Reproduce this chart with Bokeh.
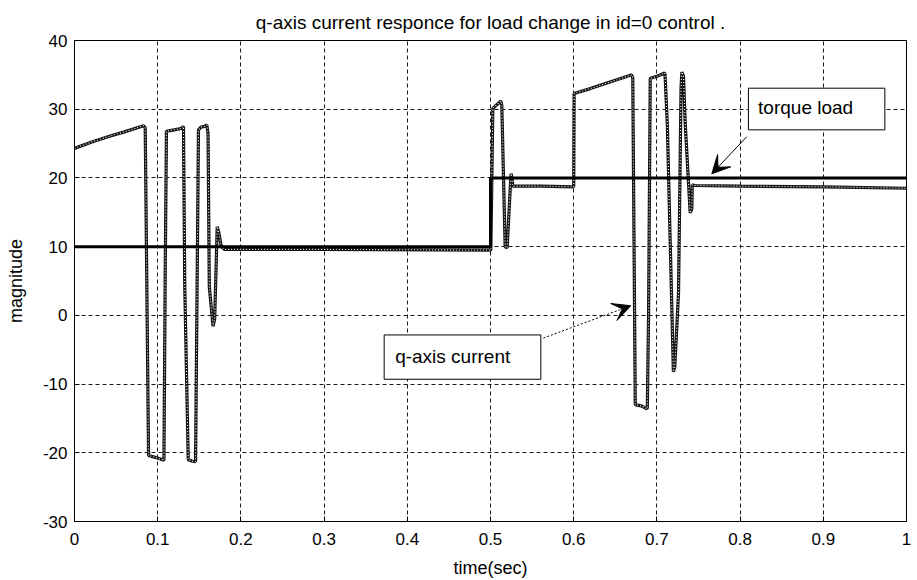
from bokeh.plotting import figure
from bokeh.models import FixedTicker, BoxAnnotation, Label, Arrow, VeeHead, Range1d
from bokeh.embed import file_html
from bokeh.resources import INLINE

# ---------------- data ----------------
title_text = "q-axis current responce for load change in id=0 control ."
x_label = "time(sec)"
y_label = "magnitude"

x_ticks = [0, 0.1, 0.2, 0.3, 0.4, 0.5, 0.6, 0.7, 0.8, 0.9, 1]
x_tick_labels = ["0", "0.1", "0.2", "0.3", "0.4", "0.5", "0.6", "0.7", "0.8", "0.9", "1"]
y_ticks = [-30, -20, -10, 0, 10, 20, 30, 40]
y_tick_labels = ["-30", "-20", "-10", "0", "10", "20", "30", "40"]

torque_t = [0.0, 0.5, 0.5, 1.0]
torque_v = [10, 10, 20, 20]

current_t = [0.0, 0.02, 0.04, 0.06, 0.083, 0.085, 0.089, 0.098, 0.1075, 0.109, 0.1105,
             0.12, 0.128, 0.131, 0.1325, 0.1367, 0.141, 0.1455, 0.149,
             0.152, 0.156, 0.159, 0.1605, 0.162, 0.1665, 0.1685, 0.1715, 0.1735, 0.1765, 0.180,
             0.3, 0.5, 0.5004, 0.5028, 0.506, 0.510, 0.5125, 0.5136, 0.5176, 0.520, 0.5245,
             0.525, 0.527, 0.56, 0.6, 0.6005, 0.62, 0.64, 0.66, 0.6698, 0.671, 0.674,
             0.682, 0.688, 0.6885, 0.690, 0.692, 0.700, 0.708, 0.7095, 0.710, 0.7126,
             0.7198, 0.7215, 0.726, 0.729, 0.730, 0.732, 0.734, 0.740, 0.742, 0.7425,
             0.745, 0.8, 0.9, 1.0]
current_v = [24.3, 25.2, 26.0, 26.7, 27.6, 27.3, -20.4, -20.7, -21.1, 5.6, 26.8,
             27.0, 27.2, 27.5, 4.4, -21.0, -21.2, -21.3, 27.0,
             27.4, 27.5, 27.7, 26.5, 4.2, -1.6, -0.5, 12.9, 12.0, 10.0, 9.6,
             9.6, 9.5, 9.5, 30.1, 30.5, 30.9, 31.2, 30.5, 10.0, 9.8, 20.3,
             20.6, 18.8, 18.8, 18.7, 32.3, 33.0, 33.8, 34.6, 35.0, 34.5, -13.0,
             -13.2, -13.6, -13.4, 0.3, 34.5, 34.8, 35.2, 35.3, 34.5, 27.5,
             -8.2, -7.5, 3.3, 33.0, 35.4, 34.8, 28.0, 14.9, 15.5, 19.0,
             18.9, 18.8, 18.7, 18.5]

FONT = "Liberation Sans"

p = figure(width=917, height=580, output_backend="svg", toolbar_location=None,
           x_range=Range1d(0, 1), y_range=Range1d(-30, 40),
           min_border_left=74, min_border_right=11, min_border_top=40,
           min_border_bottom=58, title=title_text)

p.background_fill_color = "white"
p.border_fill_color = "white"
p.outline_line_color = "black"
p.outline_line_alpha = 1
p.outline_line_width = 1

p.title.align = "center"
p.title.text_font = FONT
p.title.text_font_size = "19px"
p.title.text_font_style = "normal"
p.title.text_color = "black"
p.title.standoff = 16

p.xaxis.ticker = FixedTicker(ticks=x_ticks)
p.xaxis.major_label_overrides = {t: l for t, l in zip(x_ticks, x_tick_labels)}
p.yaxis.ticker = FixedTicker(ticks=y_ticks)
p.yaxis.major_label_overrides = {t: l for t, l in zip(y_ticks, y_tick_labels)}

for ax in (p.xaxis, p.yaxis):
    ax.axis_line_color = "black"
    ax.major_tick_line_color = "black"
    ax.major_tick_in = 5
    ax.major_tick_out = 0
    ax.minor_tick_line_color = None
    ax.major_label_text_font = FONT
    ax.major_label_text_font_size = "17px"
    ax.major_label_text_color = "black"
    ax.axis_label_text_font = FONT
    ax.axis_label_text_font_size = "18px"
    ax.axis_label_text_font_style = "normal"
    ax.axis_label_text_color = "black"

p.xaxis.axis_label = x_label
p.yaxis.axis_label = y_label
p.xaxis.major_label_standoff = 11
p.yaxis.major_label_standoff = 7
p.xaxis.axis_label_standoff = 10
p.yaxis.axis_label_standoff = 14

for g in (p.xgrid, p.ygrid):
    g.grid_line_color = "black"
    g.grid_line_alpha = 0.9
    g.grid_line_width = 1
    g.grid_line_dash = "4 3"

# current trace (chain-like scanned look)
p.line(current_t, current_v, line_color="#151515", line_width=3.2)
p.line(current_t, current_v, line_color="white", line_width=1.1, line_dash="1 2")

# torque load
p.line(torque_t, torque_v, line_color="black", line_width=3)

# annotations
p.add_layout(BoxAnnotation(left=0.81, right=0.974, bottom=27.0, top=33.06,
                           fill_color="white", fill_alpha=1,
                           line_color="black", line_width=1, line_alpha=1))
p.add_layout(Label(x=0.8216, y=30.19, text="torque load", text_font=FONT,
                   text_font_size="19px", text_baseline="middle", text_color="black"))
p.add_layout(Arrow(end=VeeHead(size=18, fill_color="black", line_color="black"),
                   x_start=0.808, y_start=26.0, x_end=0.766, y_end=20.6,
                   line_color="black", line_width=1))

p.add_layout(BoxAnnotation(left=0.3722, right=0.5605, bottom=-9.3, top=-2.85,
                           fill_color="white", fill_alpha=1,
                           line_color="black", line_width=1, line_alpha=1))
p.add_layout(Label(x=0.3854, y=-6.0, text="q-axis current", text_font=FONT,
                   text_font_size="19px", text_baseline="middle", text_color="black"))
p.add_layout(Arrow(end=VeeHead(size=18, fill_color="black", line_color="black"),
                   x_start=0.5636, y_start=-3.3, x_end=0.6686, y_end=1.4,
                   line_color="black", line_width=1, line_dash="2 2"))

open("out.html", "w").write(file_html(p, INLINE))
